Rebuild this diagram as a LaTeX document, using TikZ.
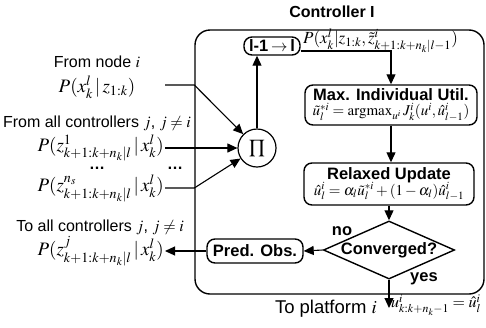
\documentclass[tikz,border=0pt]{standalone}
\usepackage{amsmath}
\usepackage{mathptmx}
\usepackage{fontspec}
\setmainfont{Liberation Sans}
\usepackage{tikz}
\usetikzlibrary{positioning}
\usetikzlibrary{arrows.meta,shapes.geometric}
\newcommand{\txtfont}{\fontsize{16}{18}\selectfont}
\newcommand{\mthfont}{\fontsize{19}{21}\selectfont}
\newcommand{\boxfont}{\fontsize{15}{16}\selectfont}
\newcommand{\boxhead}{\fontsize{16.5}{17}\selectfont\bfseries}
\tikzset{
  ctrlframe/.style={rectangle,rounded corners=15pt,draw,line width=1.4pt,
                    minimum width=289pt,minimum height=264pt},
  ctrltitle/.style={font=\txtfont\bfseries},
  procbox/.style={rectangle,rounded corners=8pt,draw,line width=1.4pt,
                  align=center,inner sep=1pt,font=\boxfont},
  decision/.style={diamond,draw,line width=1.4pt,aspect=2.26,inner sep=0pt,
                   minimum width=122pt,minimum height=54pt,font=\boxhead},
  prodnode/.style={circle,draw,line width=1.2pt,minimum size=38pt,inner sep=0pt},
  flow/.style={line width=1.1pt,-{Triangle[length=10pt,width=9pt]}},
  lbl/.style={font=\txtfont,inner sep=0pt},
  mlbl/.style={font=\mthfont,inner sep=1pt},
  blbl/.style={font=\boxhead,inner sep=0pt},
}

\begin{document}
\begin{tikzpicture}[x=1pt,y=-1pt]
    \useasboundingbox (0,0) rectangle (486,327);

    % Controller frame
    \node[ctrlframe] (ctrl) at (339.5,162) {};
    \node[ctrltitle] (ttl) at (332,12) {Controller I};

    % Processing steps
    \node[procbox,minimum width=56pt,minimum height=18pt] (iter) at (272,46)
        {\boxhead l-1\,$\rightarrow$\,l};
    \node[prodnode] (pi) at (257,148) {\mthfont$\prod$};
    \node[procbox,minimum width=172pt,minimum height=40pt] (maxu) at (391,105)
        {{\boxhead Max. Individual Util.}\\[-1pt]
         $\tilde{u}^{*i}_{l}=\mathrm{argmax}_{u^i}\,J^i_k(u^i,\hat{u}^{i}_{l-1})$};
    \node[procbox,minimum width=170pt,minimum height=42pt] (relax) at (389,184)
        {{\boxhead Relaxed Update}\\[-1pt]
         $\hat{u}^i_l=\alpha_l\tilde{u}^{*i}_l+(1-\alpha_l)\hat{u}^i_{l-1}$};
    \node[decision] (conv) at (389,250) {Converged?};
    \node[procbox,minimum width=96pt,minimum height=24pt] (pred) at (255,251)
        {\boxhead Pred. Obs.};
    \node[mlbl,anchor=west,inner sep=0pt,font=\fontsize{17}{19}\selectfont] (prior) at (303,41)
        {$P(x^l_k|z_{1:k},\tilde{z}^i_{k+1:k+n_k|l-1})$};

    % Inputs and outputs
    \node[lbl] (fromnode) at (97,62) {From node $i$};
    \node[mlbl] (pin1) at (97,87) {$P(x^l_k\,|\,z_{1:k})$};
    \coordinate (src1) at (165,85);
    \node[lbl] (fromall) at (97,123) {From all controllers $j$, $j\neq i$};
    \node[mlbl,anchor=east] (pin2) at (165,148)
        {$P(z^{1}_{k+1:k+n_k|l}\,|\,x^l_k)$};
    \node[lbl,font=\txtfont\bfseries] (dotsa) at (97,168) {\dots};
    \node[lbl,font=\txtfont\bfseries] (dotsb) at (175,168) {\dots};
    \node[mlbl,anchor=east] (pin3) at (165,188)
        {$P(z^{n_s}_{k+1:k+n_k|l}\,|\,x^l_k)$};
    \node[lbl] (toall) at (100,227) {To all controllers $j$, $j\neq i$};
    \node[mlbl,anchor=east] (pout) at (165,251)
        {$P(z^{j}_{k+1:k+n_k|l}\,|\,x^l_k)$};
    \coordinate (plat) at (389,308);
    \node[lbl,anchor=east,font=\fontsize{18.5}{20}\selectfont] (toplat) at (377,309) {To platform $i$};
    \node[anchor=west,inner sep=0pt,font=\fontsize{16}{18}\selectfont] (uout) at (391,305)
        {$u^i_{k:k+n_k-1}=\hat{u}^i_l$};
    \node[blbl] (nolbl) at (342,231) {no};
    \node[blbl] (yeslbl) at (424,279) {yes};

    % Flows
    \draw[flow] (src1) -- (src1 -| ctrl.west) -- (pi);
    \draw[flow] (pin2.east) -- (pi);
    \draw[flow] (pin3.east) -- (pin3.east -| ctrl.west) -- (pi);
    \draw[flow] (pi.north) -- (pi.north |- iter.south);
    \draw[flow] ([yshift=-5pt]iter.east) -| (maxu.north);
    \draw[flow] (maxu.south) -- (maxu.south |- relax.north);
    \draw[flow] (relax.south -| conv.north) -- (conv.north);
    \draw[flow] (conv.west) -- (pred.east);
    \draw[flow] (pred.west) -- (pred.west -| pout.east);
    \draw[flow] (conv.south) -- (plat);
\end{tikzpicture}
\end{document}
